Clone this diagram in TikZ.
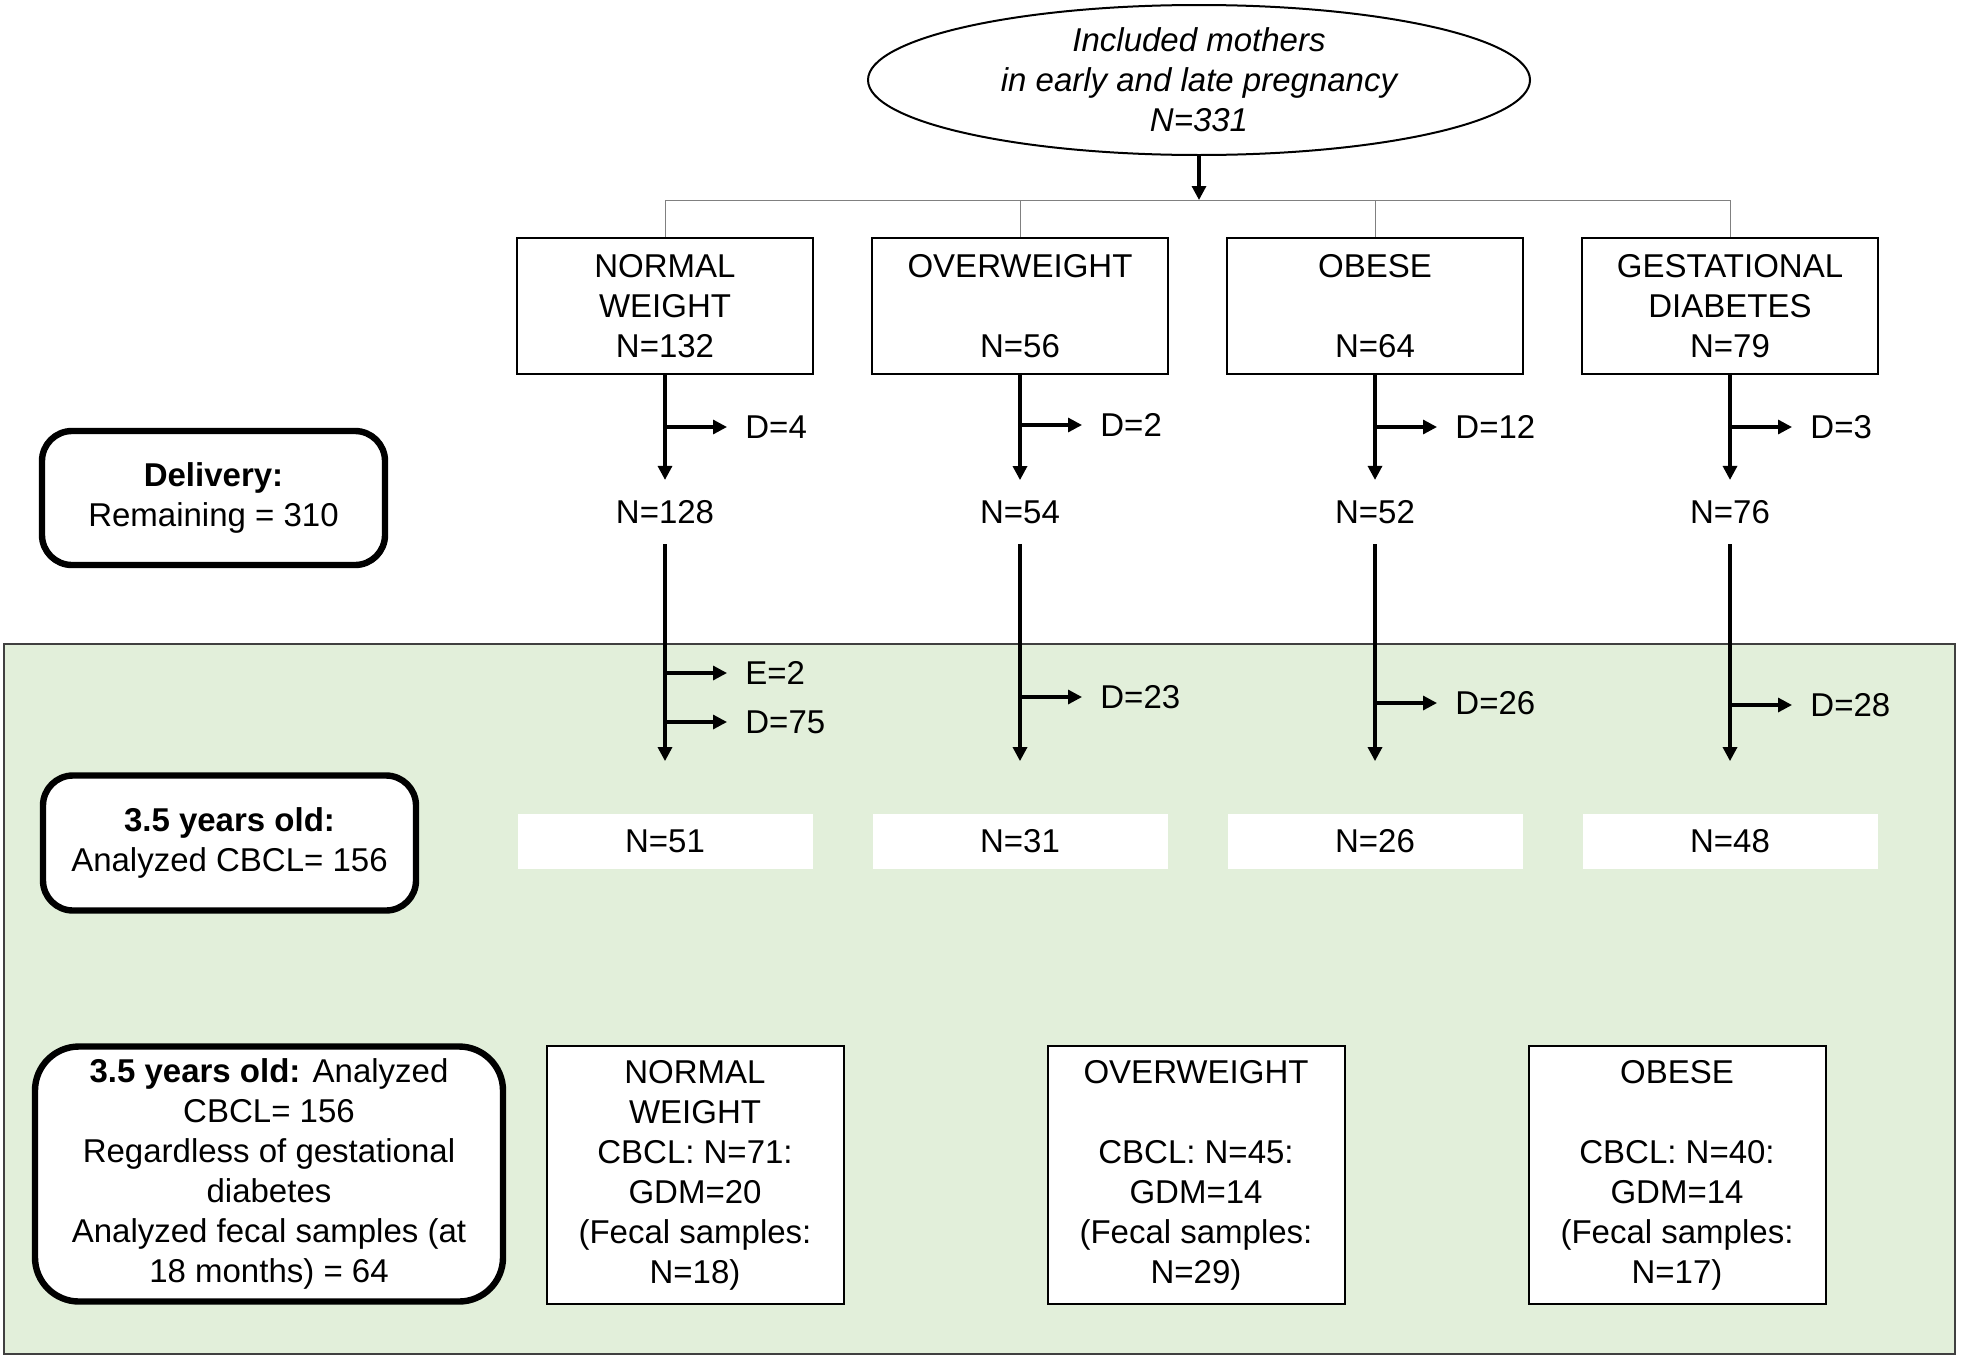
\documentclass[tikz,border=0pt]{standalone}
\usepackage{fontspec}
\setmainfont{Liberation Sans}
\usetikzlibrary{shapes.geometric,arrows.meta}
\definecolor{panelgreen}{HTML}{E2EFDA}

\begin{document}
\begin{tikzpicture}[x=0.5pt,y=-0.5pt,
        every node/.style={font=\fontsize{16.5}{20}\selectfont, align=center},
        group/.style={draw, line width=1pt, fill=white, minimum width=148pt, minimum height=68pt, inner sep=0pt},
        result/.style={draw, line width=1pt, fill=white, minimum width=148.5pt, minimum height=129pt, inner sep=0pt},
        countbox/.style={fill=white, minimum width=147.5pt, minimum height=27.5pt, inner sep=0pt},
        stage/.style={draw, line width=3.2pt, rounded corners=15pt, fill=white, inner sep=0pt},
        remain/.style={inner sep=10pt},
        droplabel/.style={anchor=west, inner xsep=9pt, inner ysep=0pt},
        flow/.style={line width=1.6pt, -{Triangle[length=7pt,width=7pt]}},
        forkline/.style={draw=gray, line width=0.5pt}]
        \useasboundingbox (0,0) rectangle (1963,1360);
        % follow-up panel
        \draw[draw=black!75, line width=1pt, fill=panelgreen] (4,644) rectangle (1955,1354);

        \node[ellipse, draw, line width=1pt, minimum width=331pt, minimum height=75pt, inner sep=0pt,
            font=\fontsize{16.5}{20}\selectfont\itshape] (mothers) at (1199,80)
            {Included mothers\\in early and late pregnancy\\N=331};
        \coordinate (split) at (1199,200);

        % groups in pregnancy
        \node[group] (normal) at (665,306) {NORMAL\\WEIGHT\\N=132};
        \node[group] (over) at (1020,306) {OVERWEIGHT\\~\\N=56};
        \node[group] (obese) at (1375,306) {OBESE\\~\\N=64};
        \node[group] (gdm) at (1730,306) {GESTATIONAL\\DIABETES\\N=79};

        \draw[forkline] (normal.north) -- (normal.north |- split) -- (gdm.north |- split) -- (gdm.north);
        \draw[forkline] (over.north) -- (over.north |- split);
        \draw[forkline] (obese.north) -- (obese.north |- split);
        \draw[flow] (mothers.south) -- (split);

        % delivery
        \node[remain] (normal2) at (665,512) {N=128};
        \node[remain] (over2) at (1020,512) {N=54};
        \node[remain] (obese2) at (1375,512) {N=52};
        \node[remain] (gdm2) at (1730,512) {N=76};
        \node[droplabel] (dnormal) at (727,427) {D=4};
        \node[droplabel] (dover) at (1082,425) {D=2};
        \node[droplabel] (dobese) at (1437,427) {D=12};
        \node[droplabel] (dgdm) at (1792,427) {D=3};

        \draw[flow] (normal) -- (normal2);
        \draw[flow] (over) -- (over2);
        \draw[flow] (obese) -- (obese2);
        \draw[flow] (gdm) -- (gdm2);
        \draw[flow] (normal |- dnormal) -- (dnormal);
        \draw[flow] (over |- dover) -- (dover);
        \draw[flow] (obese |- dobese) -- (dobese);
        \draw[flow] (gdm |- dgdm) -- (dgdm);

        % 3.5 years old
        \node[countbox] (normal3) at (665,841) {N=51};
        \node[countbox] (over3) at (1020,841) {N=31};
        \node[countbox] (obese3) at (1375,841) {N=26};
        \node[countbox] (gdm3) at (1730,841) {N=48};
        \node[droplabel] (enormal) at (727,673) {E=2};
        \node[droplabel] (dnormal2) at (727,722) {D=75};
        \node[droplabel] (dover2) at (1082,697) {D=23};
        \node[droplabel] (dobese2) at (1437,703) {D=26};
        \node[droplabel] (dgdm2) at (1792,705) {D=28};

        \draw[flow, shorten >=26pt] (normal2) -- (normal3);
        \draw[flow, shorten >=26pt] (over2) -- (over3);
        \draw[flow, shorten >=26pt] (obese2) -- (obese3);
        \draw[flow, shorten >=26pt] (gdm2) -- (gdm3);
        \draw[flow] (normal |- enormal) -- (enormal);
        \draw[flow] (normal |- dnormal2) -- (dnormal2);
        \draw[flow] (over |- dover2) -- (dover2);
        \draw[flow] (obese |- dobese2) -- (dobese2);
        \draw[flow] (gdm |- dgdm2) -- (dgdm2);

        % stages on the left
        \node[stage, minimum width=171.5pt, minimum height=67pt] (delivery) at (213.5,498)
            {\textbf{Delivery:}\\Remaining = 310};
        \node[stage, minimum width=186.5pt, minimum height=67.5pt] (followup) at (229.5,843)
            {\textbf{3.5 years old:}\\Analyzed CBCL= 156};
        \node[stage, rounded corners=22pt, minimum width=234pt, minimum height=127.5pt] (summary) at (269,1174)
            {\textbf{3.5 years old:} Analyzed\\CBCL= 156\\Regardless of gestational\\diabetes\\Analyzed fecal samples (at\\18 months) = 64};

        % regardless of gestational diabetes
        \node[result] (normal4) at (695,1175) {NORMAL\\WEIGHT\\CBCL: N=71:\\GDM=20\\(Fecal samples:\\N=18)};
        \node[result] (over4) at (1196,1175) {OVERWEIGHT\\~\\CBCL: N=45:\\GDM=14\\(Fecal samples:\\N=29)};
        \node[result] (obese4) at (1677,1175) {OBESE\\~\\CBCL: N=40:\\GDM=14\\(Fecal samples:\\N=17)};
\end{tikzpicture}
\end{document}
